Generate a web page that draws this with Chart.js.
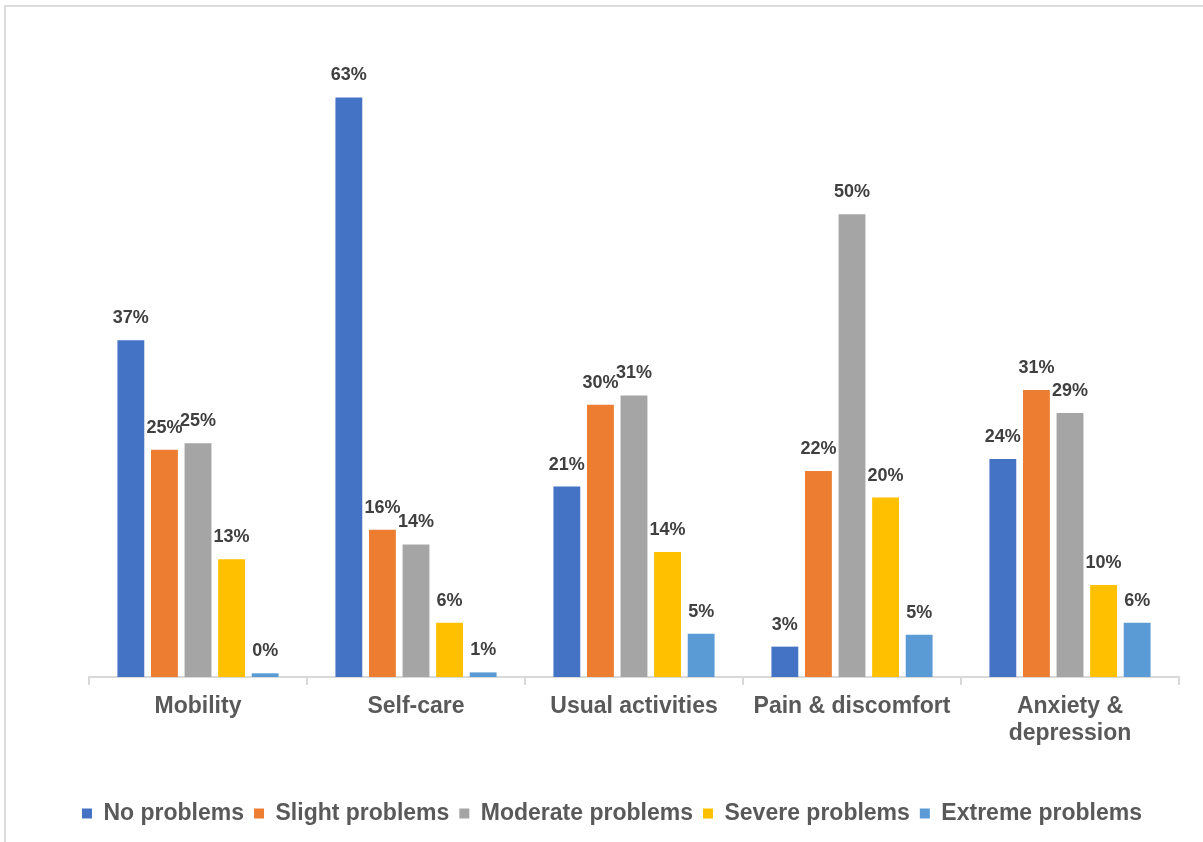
<!DOCTYPE html>
<html>
<head>
<meta charset="utf-8">
<script src="https://cdn.jsdelivr.net/npm/chart.js@4.4.1/dist/chart.umd.min.js"></script>
<style>
  html, body { margin:0; padding:0; background:#fff; }
  #wrap { position:relative; width:1203px; height:842px; }
  #frame { position:absolute; left:4px; top:5px; right:0; bottom:0; border-left:2px solid #dcdcdc; border-top:2px solid #dcdcdc; pointer-events:none; }
  canvas { position:absolute; left:0; top:0; }
</style>
</head>
<body>
<div id="wrap">
  <canvas id="c" width="1203" height="842"></canvas>
  <div id="frame"></div>
</div>
<script>
const categories = ["Mobility", "Self-care", "Usual activities", "Pain & discomfort", ["Anxiety &", "depression"]];
const seriesNames = ["No problems", "Slight problems", "Moderate problems", "Severe problems", "Extreme problems"];
const noProblems       = [36.6, 63.0, 20.7, 3.3, 23.7];
const slightProblems   = [24.7, 16.0, 29.6, 22.4, 31.2];
const moderateProblems = [25.4, 14.4, 30.6, 50.3, 28.7];
const severeProblems   = [12.8, 5.9, 13.6, 19.5, 10.0];
const extremeProblems  = [0.4, 0.5, 4.7, 4.6, 5.9];
const seriesColors = ["#4472C4", "#ED7D31", "#A5A5A5", "#FFC000", "#5B9BD5"];
const yMax = 70;

const allSeries = [noProblems, slightProblems, moderateProblems, severeProblems, extremeProblems];

const FONT = "'Liberation Sans', Arial, sans-serif";

const labelPlugin = {
  id: 'barLabels',
  afterDatasetsDraw(chart) {
    const ctx = chart.ctx;
    ctx.save();
    ctx.font = "bold 18px " + FONT;
    ctx.fillStyle = "#404040";
    ctx.textAlign = "center";
    ctx.textBaseline = "middle";
    chart.data.datasets.forEach((ds, i) => {
      const meta = chart.getDatasetMeta(i);
      meta.data.forEach((bar, j) => {
        ctx.fillText(Math.round(ds.data[j]) + "%", bar.x, bar.y - 22);
      });
    });
    ctx.restore();
  }
};

const legendShift = {
  id: 'legendShift',
  afterLayout(chart) {
    if (chart.legend) {
      chart.legend.left -= 22;
      chart.legend.right -= 22;
    }
  }
};

new Chart(document.getElementById('c'), {
  type: 'bar',
  data: {
    labels: categories,
    datasets: allSeries.map((d, i) => ({
      label: seriesNames[i],
      data: d,
      backgroundColor: seriesColors[i],
      categoryPercentage: 0.77,
      barPercentage: 0.8
    }))
  },
  options: {
    responsive: false,
    animation: false,
    devicePixelRatio: 1,
    layout: { padding: { left: 89, right: 24, top: 33, bottom: 7 } },
    plugins: {
      legend: {
        position: 'bottom',
        labels: {
          boxWidth: 10, boxHeight: 10,
          padding: 10,
          color: '#595959',
          font: { family: FONT, size: 23, weight: 'bold' }
        }
      },
      tooltip: { enabled: false }
    },
    scales: {
      y: { display: false, min: 0, max: yMax },
      x: {
        afterFit(scale) { scale.height = 115; },
        border: { display: true, color: '#d9d9d9', width: 2 },
        grid: { display: true, drawOnChartArea: false, drawTicks: true, tickLength: 8, color: '#d9d9d9', lineWidth: 2, offset: true },
        ticks: {
          color: '#595959',
          padding: 8,
          maxRotation: 0,
          font: { family: FONT, size: 23, weight: 'bold', lineHeight: 1.18 }
        }
      }
    }
  },
  plugins: [labelPlugin, legendShift]
});
</script>
</body>
</html>
